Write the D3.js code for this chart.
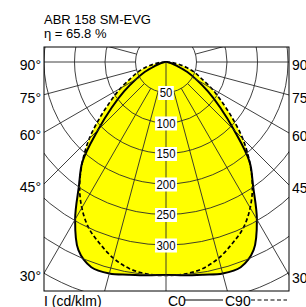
<!DOCTYPE html>
<html>
<head>
<meta charset="utf-8">
<script src="https://cdn.jsdelivr.net/npm/d3@7"></script>
<style>
  body { margin: 0; background: #fff; }
  svg { display: block; font-family: "Liberation Sans", Arial, sans-serif; }
</style>
</head>
<body>
<div class="svg-container"></div>
<script>
// luminous intensity, cd/klm, angle from nadir
const angles = [0, 5, 10, 15, 20, 25, 30, 35, 40, 45, 50, 55, 60, 65, 70, 75, 80, 85, 90];
const c0Values = [349, 351, 354, 359, 358, 340, 298, 249, 213, 158, 116, 84, 57, 38, 20, 11, 5, 2, 0];
const c90Values = [350, 349, 344, 333, 317, 300, 276, 247, 213, 178, 141, 110, 86, 64, 50, 35, 21, 9, 0];

const radialTicks = [50, 100, 150, 200, 250, 300];
const gridCircles = [50, 100, 150, 200, 250, 300, 350, 400, 450];
const degreeTicks = [30, 45, 60, 75, 90];

const titleLines = ["ABR 158 SM-EVG", "\u03b7 = 65.8 %"];
const unitLabel = "I (cd/klm)";
const legendLabels = ["C0", "C90"];

const width = 306, height = 307;
const frame = { x0: 44, x1: 289, y0: 47, y1: 291 };
const cx = 166, cy = 62;

const svg = d3.select(".svg-container").append("svg")
    .attr("width", width)
    .attr("height", height);

const r = d3.scaleLinear().domain([0, 300]).range([0, 183]);
const rad = d => d * Math.PI / 180;

svg.append("clipPath").attr("id", "frameClip")
  .append("rect")
    .attr("x", frame.x0).attr("y", frame.y0)
    .attr("width", frame.x1 - frame.x0).attr("height", frame.y1 - frame.y0);

const plot = svg.append("g").attr("clip-path", "url(#frameClip)");

// build the closed outline: right half (C0 side) then mirrored left half
function outline(values) {
    const pts = [];
    for (let i = angles.length - 1; i >= 0; i--) pts.push([Math.PI - rad(angles[i]), values[i]]);
    for (let i = 1; i < angles.length; i++) pts.push([Math.PI + rad(angles[i]), values[i]]);
    return pts;
}

const line = d3.lineRadial()
    .angle(d => d[0])
    .radius(d => r(d[1]))
    .curve(d3.curveCatmullRom);

const curves = plot.append("g").attr("transform", `translate(${cx},${cy})`);

[c0Values, c90Values].forEach(v => {
    curves.append("path")
        .attr("d", line(outline(v)) + "Z")
        .attr("fill", "#ffff00")
        .attr("stroke", "none");
});

// polar grid
const grid = plot.append("g")
    .attr("transform", `translate(${cx},${cy})`)
    .attr("stroke", "#2a2a2a")
    .attr("stroke-width", 0.9)
    .attr("fill", "none");

grid.selectAll("circle").data(gridCircles).enter()
  .append("circle")
    .attr("r", d => r(d));

const spokes = d3.range(-165, 181, 15).filter(a => a !== 0);
grid.selectAll("line.spoke").data(spokes).enter()
  .append("line")
    .attr("class", "spoke")
    .attr("x1", a => r(50) * Math.sin(rad(a)))
    .attr("y1", a => r(50) * Math.cos(rad(a)))
    .attr("x2", a => r(500) * Math.sin(rad(a)))
    .attr("y2", a => r(500) * Math.cos(rad(a)));

grid.append("line")
    .attr("x1", 0).attr("y1", 0)
    .attr("x2", 0).attr("y2", r(500));

// curve outlines
curves.append("path")
    .attr("d", line(outline(c90Values)) + "Z")
    .attr("fill", "none")
    .attr("stroke", "#000")
    .attr("stroke-width", 1.7)
    .attr("stroke-dasharray", "4,2.5");

curves.append("path")
    .attr("d", line(outline(c0Values)) + "Z")
    .attr("fill", "none")
    .attr("stroke", "#000")
    .attr("stroke-width", 2);

// intensity labels on the nadir axis
const tickG = svg.append("g");
radialTicks.forEach(v => {
    const t = tickG.append("text")
        .attr("x", cx)
        .attr("y", cy + r(v))
        .attr("text-anchor", "middle")
        .attr("dominant-baseline", "central")
        .attr("font-size", 13)
        .attr("textLength", String(v).length * 6.3)
        .attr("lengthAdjust", "spacingAndGlyphs")
        .text(v);
    const bb = t.node().getBBox();
    tickG.insert("rect", "text")
        .attr("x", bb.x - 1.5).attr("y", bb.y + 1)
        .attr("width", bb.width + 3).attr("height", bb.height - 1)
        .attr("fill", "#fff");
});

svg.append("rect")
    .attr("x", frame.x0).attr("y", frame.y0)
    .attr("width", frame.x1 - frame.x0).attr("height", frame.y1 - frame.y0)
    .attr("fill", "none")
    .attr("stroke", "#000")
    .attr("stroke-width", 1);

// angle labels where the spokes meet the frame
degreeTicks.forEach(a => {
    const yl = cy + (cx - frame.x0) / Math.tan(rad(a));
    const yr = cy + (frame.x1 - cx) / Math.tan(rad(a));
    svg.append("text")
        .attr("x", frame.x0 - 3).attr("y", yl + 3)
        .attr("text-anchor", "end")
        .attr("dominant-baseline", "central")
        .attr("font-size", 14)
        .text(a + "\u00b0");
    svg.append("text")
        .attr("x", frame.x1 + 3).attr("y", yr + 3)
        .attr("dominant-baseline", "central")
        .attr("font-size", 14)
        .text(a + "\u00b0");
});

svg.selectAll("text.title").data(titleLines).enter()
  .append("text")
    .attr("class", "title")
    .attr("x", frame.x0)
    .attr("y", (d, i) => 24 + i * 13.5)
    .attr("font-size", 13)
    .text(d => d);

svg.append("text")
    .attr("x", frame.x0).attr("y", 306)
    .attr("font-size", 14)
    .text(unitLabel);

// legend
svg.append("text").attr("x", 168).attr("y", 306).attr("font-size", 14).text(legendLabels[0]);
svg.append("line")
    .attr("x1", 185).attr("x2", 223).attr("y1", 300).attr("y2", 300)
    .attr("stroke", "#000").attr("stroke-width", 1.2);
svg.append("text").attr("x", 225).attr("y", 306).attr("font-size", 14).text(legendLabels[1]);
svg.append("line")
    .attr("x1", 251).attr("x2", 287).attr("y1", 300).attr("y2", 300)
    .attr("stroke", "#000").attr("stroke-width", 1.2)
    .attr("stroke-dasharray", "4,2.5");
</script>
</body>
</html>
